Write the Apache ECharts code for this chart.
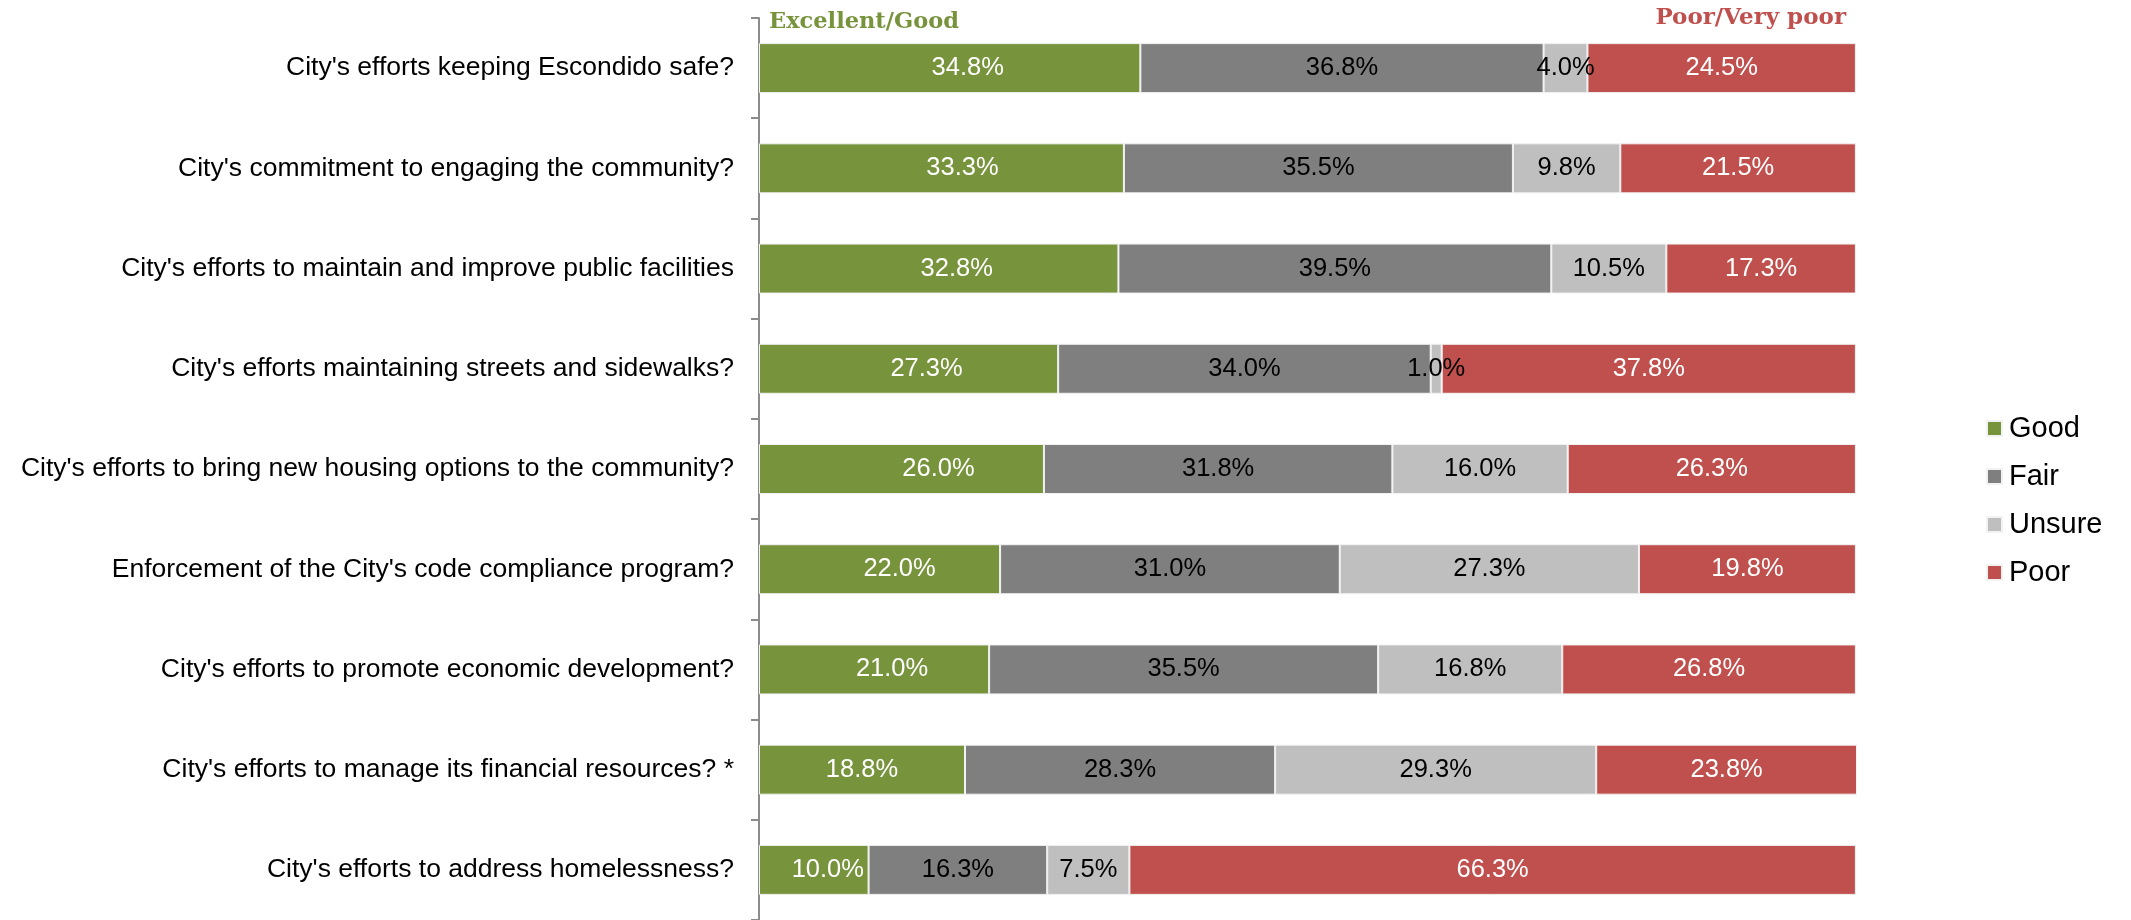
<!DOCTYPE html>
<html>
<head>
<meta charset="utf-8">
<script src="https://cdn.jsdelivr.net/npm/echarts@6/dist/echarts.min.js"></script>
<style>
  html, body { margin: 0; padding: 0; background: #fff; }
  #chart { width: 2131px; height: 920px; }
</style>
</head>
<body>
<div id="chart"></div>
<script>
// Survey items, top to bottom
const questions = [
  "City's efforts keeping Escondido safe?",
  "City's commitment to engaging the community?",
  "City's efforts to maintain and improve public facilities",
  "City's efforts maintaining streets and sidewalks?",
  "City's efforts to bring new housing options to the community?",
  "Enforcement of the City's code compliance program?",
  "City's efforts to promote economic development?",
  "City's efforts to manage its financial resources? *",
  "City's efforts to address homelessness?"
];

// Share of responses (%) per rating
const good   = [34.8, 33.3, 32.8, 27.3, 26.0, 22.0, 21.0, 18.8, 10.0];
const fair   = [36.8, 35.5, 39.5, 34.0, 31.8, 31.0, 35.5, 28.3, 16.3];
const unsure = [4.0, 9.8, 10.5, 1.0, 16.0, 27.3, 16.8, 29.3, 7.5];
const poor   = [24.5, 21.5, 17.3, 37.8, 26.3, 19.8, 26.8, 23.8, 66.3];

const seriesNames = ['Good', 'Fair', 'Unsure', 'Poor'];
const seriesColors = ['#77933C', '#7F7F7F', '#BFBFBF', '#C0504D'];
const labelColors = ['#ffffff', '#000000', '#000000', '#ffffff'];
const seriesData = [good, fair, unsure, poor];

// Hand-placed nudges (px) for the "Good" value labels
const goodLabelNudge = [18, 21, 18, 18, 37, 20, 18, 0, 14];

const chart = echarts.init(document.getElementById('chart'), null, { renderer: 'canvas' });

const series = seriesData.map((data, i) => ({
  name: seriesNames[i],
  type: 'bar',
  stack: 'total',
  data: i === 0
    ? data.map((v, k) => ({ value: v, label: { offset: [goodLabelNudge[k], 0] } }))
    : data,
  barWidth: 50,
  itemStyle: { color: seriesColors[i], borderColor: '#f2f2f2', borderWidth: 1 },
  label: {
    show: true,
    position: 'inside',
    color: labelColors[i],
    fontFamily: 'Liberation Sans, Arial, sans-serif',
    fontSize: 25.5,
    formatter: p => p.value.toFixed(1) + '%'
  },
  emphasis: { disabled: true }
}));

chart.setOption({
  animation: false,
  backgroundColor: '#ffffff',
  grid: { left: 759, right: 274, top: 18, bottom: -3, containLabel: false },
  xAxis: {
    type: 'value',
    min: 0,
    max: 100.2,
    show: false
  },
  yAxis: {
    type: 'category',
    data: questions,
    inverse: true,
    axisLine: { show: true, lineStyle: { color: '#8c8c8c', width: 2 } },
    axisTick: { show: true, length: 8, lineStyle: { color: '#8c8c8c', width: 2 } },
    axisLabel: {
      margin: 25,
      color: '#000',
      fontFamily: 'Liberation Sans, Arial, sans-serif',
      fontSize: 26.5
    }
  },
  legend: {
    orient: 'vertical',
    left: 1981,
    top: 409,
    itemWidth: 15,
    itemHeight: 15,
    itemGap: 19,
    icon: 'rect',
    data: seriesNames,
    textStyle: {
      color: '#000',
      fontFamily: 'Liberation Sans, Arial, sans-serif',
      fontSize: 29,
      lineHeight: 29,
      padding: [0, 0, 0, 2]
    }
  },
  graphic: [
    {
      type: 'text',
      left: 769,
      top: 11,
      style: {
        text: 'Excellent/Good',
        fill: '#77933C',
        font: 'bold 22.5px "DejaVu Serif", "Liberation Serif", serif'
      }
    },
    {
      type: 'text',
      right: 2131 - 1846,
      top: 7,
      style: {
        text: 'Poor/Very poor',
        fill: '#C0504D',
        font: 'bold 23px "DejaVu Serif", "Liberation Serif", serif'
      }
    }
  ],
  series: series
});
</script>
</body>
</html>
